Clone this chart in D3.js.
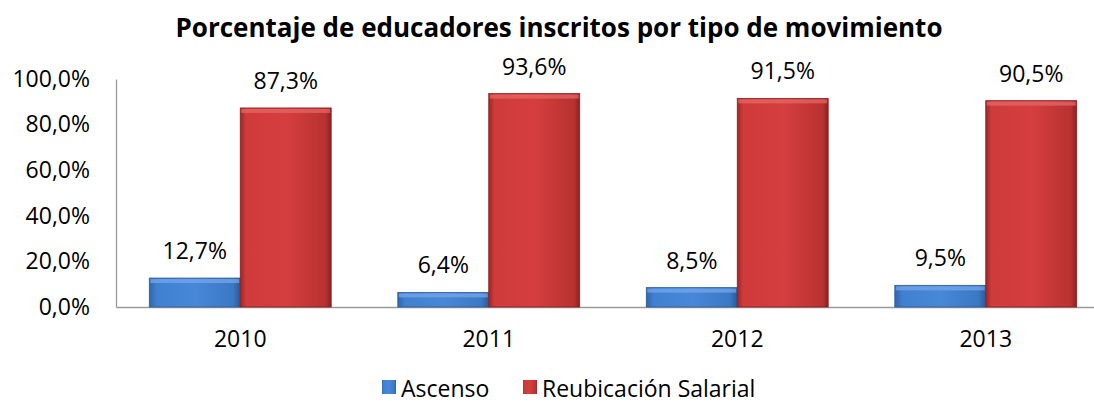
<!DOCTYPE html>
<html>
<head>
<meta charset="utf-8">
<script src="https://cdn.jsdelivr.net/npm/d3@7"></script>
<style>
  body { margin: 0; background: #fff; }
  text { font-family: "Open Sans", "Liberation Sans", sans-serif; }
</style>
</head>
<body>
<div id="container"></div>
<script>
let years = ["2010", "2011", "2012", "2013"];
let ascenso = [12.7, 6.4, 8.5, 9.5];
let reubicacion = [87.3, 93.6, 91.5, 90.5];
let seriesNames = ["Ascenso", "Reubicación Salarial"];
let yTicks = [0, 20, 40, 60, 80, 100];

let w = 1094;
let h = 405;
let plotLeft = 116;
let plotRight = 1110;
let plotTop = 79;
let plotBottom = 307;

let viz = d3.select("#container")
  .append("svg")
    .attr("width", w)
    .attr("height", h);

let defs = viz.append("defs");

// bevel-ish gradients for the bars
function makeGrad(id, stops) {
  let g = defs.append("linearGradient").attr("id", id);
  stops.forEach(function(s){
    g.append("stop").attr("offset", s[0]).attr("stop-color", s[1]);
  });
}
makeGrad("blueH", [[0, "#2f66ab"], [0.08, "#3f80d0"], [0.5, "#4888d8"], [0.92, "#3b78c4"], [1, "#285a99"]]);
makeGrad("redH", [[0, "#9a2626"], [0.06, "#cf3a3a"], [0.5, "#d63e3e"], [0.94, "#b83131"], [1, "#8a2020"]]);

let fmt = function(v){ return v.toFixed(1).replace(".", ",") + "%"; };

let xScale = d3.scaleBand().domain(years).range([plotLeft, plotRight]).paddingInner(0.268).paddingOuter(0.134);
let sub = d3.scaleBand().domain(seriesNames).range([0, xScale.bandwidth()]);
let yScale = d3.scaleLinear().domain([0, 100]).range([plotBottom, plotTop]);

// title
viz.append("text")
  .attr("x", 559)
  .attr("y", 37)
  .attr("text-anchor", "middle")
  .attr("font-size", 26)
  .attr("font-weight", "bold")
  .attr("fill", "#000")
  .text("Porcentaje de educadores inscritos por tipo de movimiento");

// y axis
let yAxis = d3.axisLeft(yScale).tickValues(yTicks).tickSize(0).tickPadding(26)
  .tickFormat(fmt);
let yAxisGroup = viz.append("g")
  .attr("transform", "translate(" + plotLeft + ",0)")
  .call(yAxis);
yAxisGroup.select(".domain").attr("stroke", "#9a9a9a").attr("stroke-width", 1.3);
yAxisGroup.selectAll("text").attr("font-size", 23).attr("fill", "#000");

// x axis
let xAxis = d3.axisBottom(xScale).tickSize(0).tickPadding(24);
let xAxisGroup = viz.append("g")
  .attr("transform", "translate(0," + plotBottom + ")")
  .call(xAxis);
xAxisGroup.select(".domain").attr("stroke", "#9a9a9a").attr("stroke-width", 1.3);
xAxisGroup.selectAll("text").attr("font-size", 23).attr("fill", "#000");

let data = years.map(function(y, i){
  return [
    { year: y, name: seriesNames[0], value: ascenso[i], fill: "url(#blueH)", hi: "#79aaf0", edge: "#2a5a98" },
    { year: y, name: seriesNames[1], value: reubicacion[i], fill: "url(#redH)", hi: "#e86a6a", edge: "#8a2020" }
  ];
});

let groups = viz.selectAll(".grp")
  .data(data)
  .enter()
  .append("g")
    .attr("class", "grp")
    .attr("transform", function(d){ return "translate(" + xScale(d[0].year) + ",0)"; });

let bars = groups.selectAll(".bar")
  .data(function(d){ return d; })
  .enter()
  .append("g")
    .attr("class", "bar");

bars.append("rect")
  .attr("x", function(d){ return sub(d.name); })
  .attr("y", function(d){ return yScale(d.value); })
  .attr("width", sub.bandwidth())
  .attr("height", function(d){ return plotBottom - yScale(d.value); })
  .attr("fill", function(d){ return d.fill; })
  .attr("stroke", function(d){ return d.edge; })
  .attr("stroke-width", 0.8);

// lighter top bevel
bars.append("rect")
  .attr("x", function(d){ return sub(d.name) + 1; })
  .attr("y", function(d){ return yScale(d.value) + 1; })
  .attr("width", sub.bandwidth() - 2)
  .attr("height", 4)
  .attr("fill", function(d){ return d.hi; })
  .attr("opacity", 0.7);

bars.append("text")
  .attr("x", function(d){ return sub(d.name) + sub.bandwidth() / 2; })
  .attr("y", function(d){ return yScale(d.value) - 19; })
  .attr("text-anchor", "middle")
  .attr("font-size", 23)
  .attr("fill", "#000")
  .text(function(d){ return fmt(d.value); });

// legend
let legendX = [382, 523];
let legend = viz.selectAll(".leg")
  .data(seriesNames)
  .enter()
  .append("g")
    .attr("class", "leg")
    .attr("transform", function(d, i){ return "translate(" + legendX[i] + ",380)"; });

legend.append("rect")
  .attr("width", 14)
  .attr("height", 14)
  .attr("fill", function(d, i){ return i == 0 ? "url(#blueH)" : "url(#redH)"; });

legend.append("text")
  .attr("x", 19)
  .attr("y", 17)
  .attr("font-size", 23)
  .attr("fill", "#000")
  .text(function(d){ return d; });
</script>
</body>
</html>
